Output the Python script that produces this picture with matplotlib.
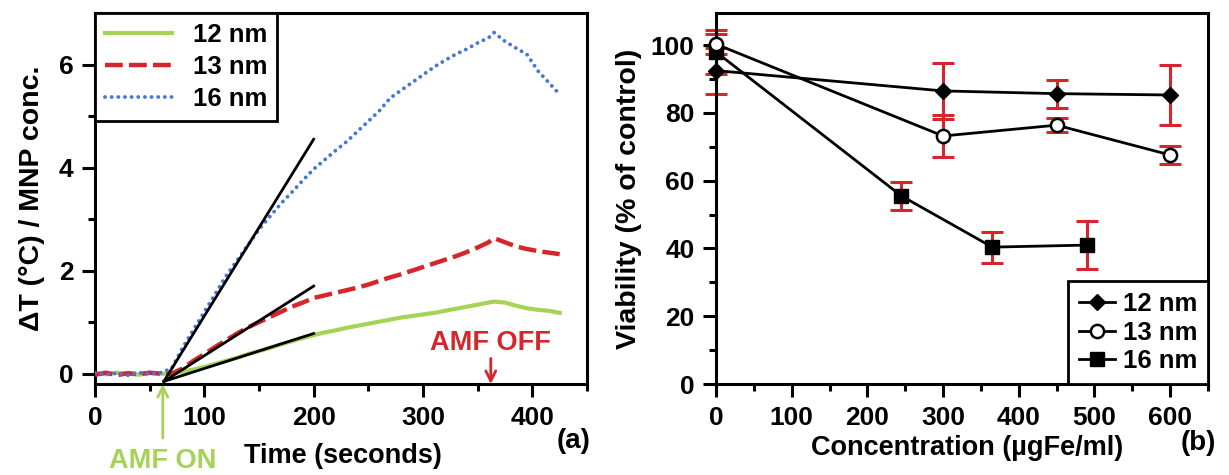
import matplotlib
matplotlib.use("Agg")
import matplotlib.pyplot as plt
from matplotlib.ticker import MultipleLocator, FixedLocator

plt.rcParams['font.family'] = ['Liberation Sans', 'DejaVu Sans']
plt.rcParams['font.weight'] = 'bold'
plt.rcParams['axes.labelweight'] = 'bold'
plt.rcParams['font.size'] = 18

# ---- panel (a): heating curves ----
time_s = [0, 10, 20, 30, 40, 50, 60, 70, 80, 90, 100, 110, 120, 130, 140, 150,
          160, 170, 180, 190, 200, 210, 220, 230, 240, 250, 260, 270, 280, 290,
          300, 310, 320, 330, 340, 350, 360, 365, 375, 385, 395, 405, 415, 425]
dT_12nm = [0.01, -0.01, 0.02, 0.0, -0.02, 0.01, 0.0, 0.0, 0.04, 0.08, 0.13, 0.19,
           0.25, 0.31, 0.38, 0.44, 0.5, 0.57, 0.63, 0.69, 0.75, 0.8, 0.84, 0.89,
           0.93, 0.97, 1.01, 1.05, 1.09, 1.12, 1.15, 1.18, 1.22, 1.26, 1.3, 1.34,
           1.38, 1.4, 1.38, 1.32, 1.27, 1.24, 1.22, 1.18]
dT_13nm = [-0.02, 0.02, -0.03, 0.01, -0.01, 0.02, 0.0, 0.0, 0.1, 0.25, 0.38, 0.52,
           0.65, 0.78, 0.9, 1.0, 1.1, 1.2, 1.3, 1.38, 1.47, 1.52, 1.57, 1.62,
           1.67, 1.73, 1.8, 1.87, 1.93, 2.0, 2.07, 2.14, 2.21, 2.28, 2.36, 2.45,
           2.55, 2.63, 2.55, 2.47, 2.42, 2.38, 2.35, 2.32]
dT_16nm = [0.02, -0.02, 0.01, -0.03, 0.02, 0.0, 0.02, 0.1, 0.5, 0.85, 1.2, 1.55,
           1.9, 2.2, 2.5, 2.8, 3.05, 3.3, 3.52, 3.75, 3.97, 4.15, 4.33, 4.5,
           4.7, 4.9, 5.1, 5.35, 5.5, 5.65, 5.8, 5.95, 6.08, 6.2, 6.3, 6.42,
           6.52, 6.62, 6.45, 6.32, 6.2, 5.88, 5.65, 5.42]
fit_t = [63, 200]
fit_12nm = [-0.15, 0.78]
fit_13nm = [-0.15, 1.70]
fit_16nm = [-0.15, 4.55]
amf_on_t = 62
amf_off_t = 362

# ---- panel (b): viability ----
conc_12nm = [0, 300, 450, 600]
via_12nm = [92.5, 86.5, 85.7, 85.3]
err_12nm = [6.8, 8.3, 4.1, 8.8]
conc_13nm = [0, 300, 450, 600]
via_13nm = [100.3, 73.2, 76.4, 67.6]
err_13nm = [3.0, 6.3, 2.0, 2.7]
conc_16nm = [0, 245, 365, 490]
via_16nm = [98.0, 55.5, 40.4, 41.0]
err_16nm = [6.5, 4.2, 4.6, 7.0]

green = '#a6d256'
red = '#d6262b'
blue = '#4677d8'
lw_ax = 2.2

fig = plt.figure(figsize=(12.29, 4.75), dpi=100)
W, H = 1229, 475
ax1 = fig.add_axes([95 / W, 1 - 384 / H, 492 / W, 371 / H])
ax2 = fig.add_axes([716 / W, 1 - 384 / H, 492 / W, 371 / H])

for ax in (ax1, ax2):
    for sp in ax.spines.values():
        sp.set_linewidth(lw_ax)
    ax.tick_params(which='major', length=9.5, width=lw_ax, pad=6, labelsize=19)
    ax.tick_params(which='minor', length=5, width=lw_ax)
    ax.tick_params(top=False, right=False, which='both')

# panel (a)
ax1.plot(time_s, dT_12nm, color=green, lw=3, label='12 nm', zorder=2)
ax1.plot(time_s, dT_13nm, color=red, lw=3.2, dashes=(4, 1.4), label='13 nm', zorder=3)
ax1.plot(time_s, dT_16nm, color=blue, lw=2.8, dashes=(0.01, 1.7),
         dash_capstyle='round', label='16 nm', zorder=4)
for f in (fit_12nm, fit_13nm, fit_16nm):
    ax1.plot(fit_t, f, color='black', lw=2, zorder=5)
ax1.set_xlim(0, 450)
ax1.set_ylim(-0.2, 7.0)
ax1.xaxis.set_major_locator(MultipleLocator(100))
ax1.xaxis.set_minor_locator(FixedLocator([50, 150, 250, 350, 450]))
ax1.yaxis.set_major_locator(MultipleLocator(2))
ax1.yaxis.set_minor_locator(FixedLocator([1, 3, 5]))
ax1.set_ylabel('ΔT (°C) / MNP conc.', fontsize=20.5, fontweight='bold', labelpad=10)
leg1 = ax1.legend(loc='upper left', bbox_to_anchor=(0, 1), borderaxespad=0,
                  fancybox=False, edgecolor='black', framealpha=1, fontsize=18.5,
                  handlelength=2.6, handletextpad=0.8, labelspacing=0.3,
                  borderpad=0.4)
leg1.get_frame().set_linewidth(2)

ax1.annotate('AMF OFF', xy=(amf_off_t, -0.2), xytext=(amf_off_t, 0.35),
             color=red, fontsize=19.5, ha='center', va='bottom',
             arrowprops=dict(arrowstyle='->', color=red, lw=2,
                             shrinkA=0, shrinkB=0, mutation_scale=18))
ax1.annotate('', xy=(amf_on_t, -0.2), xytext=(amf_on_t, -1.25),
             arrowprops=dict(arrowstyle='->', color=green, lw=2,
                             shrinkA=0, shrinkB=0, mutation_scale=18),
             annotation_clip=False)
fig.text(163 / W, 1 - 461 / H, 'AMF ON', color=green, fontsize=19.5,
         ha='center', va='center')
fig.text(343 / W, 1 - 456 / H, 'Time (seconds)', fontsize=19.5,
         ha='center', va='center')
fig.text(574 / W, 1 - 441 / H, '(a)', fontsize=20, ha='center', va='center')

# panel (b)
for x, y, e in ((conc_12nm, via_12nm, err_12nm), (conc_13nm, via_13nm, err_13nm),
                (conc_16nm, via_16nm, err_16nm)):
    ax2.errorbar(x, y, yerr=e, fmt='none', ecolor=red, elinewidth=2.2,
                 capsize=8, capthick=2.2, zorder=2, clip_on=False)
ax2.plot(conc_12nm, via_12nm, color='black', lw=2, marker='D', ms=8.5,
         mfc='black', label='12 nm', zorder=4, clip_on=False)
ax2.plot(conc_13nm, via_13nm, color='black', lw=2, marker='o', ms=9.5,
         mfc='white', mew=1.8, label='13 nm', zorder=4, clip_on=False)
ax2.plot(conc_16nm, via_16nm, color='black', lw=2, marker='s', ms=10,
         mfc='black', label='16 nm', zorder=3, clip_on=False)
ax2.set_xlim(0, 650)
ax2.set_ylim(0, 109.5)
ax2.xaxis.set_major_locator(MultipleLocator(100))
ax2.xaxis.set_minor_locator(FixedLocator([50, 150, 250, 350, 450, 550, 650]))
ax2.yaxis.set_major_locator(MultipleLocator(20))
ax2.yaxis.set_minor_locator(FixedLocator([10, 30, 50, 70, 90]))
ax2.set_ylabel('Viability (% of control)', fontsize=20.5, fontweight='bold', labelpad=6)
leg2 = ax2.legend(loc='lower right', bbox_to_anchor=(1, 0), borderaxespad=0,
                  fancybox=False, edgecolor='black', framealpha=1, fontsize=18.5,
                  handlelength=1.4, handletextpad=0.3, labelspacing=0.18,
                  borderpad=0.42, numpoints=1)
leg2.get_frame().set_linewidth(2)
fig.text(967 / W, 1 - 448 / H, 'Concentration (µgFe/ml)', fontsize=19.5,
         ha='center', va='center')
fig.text(1198 / W, 1 - 443 / H, '(b)', fontsize=20, ha='center', va='center')

fig.savefig('out.png', dpi=100)
